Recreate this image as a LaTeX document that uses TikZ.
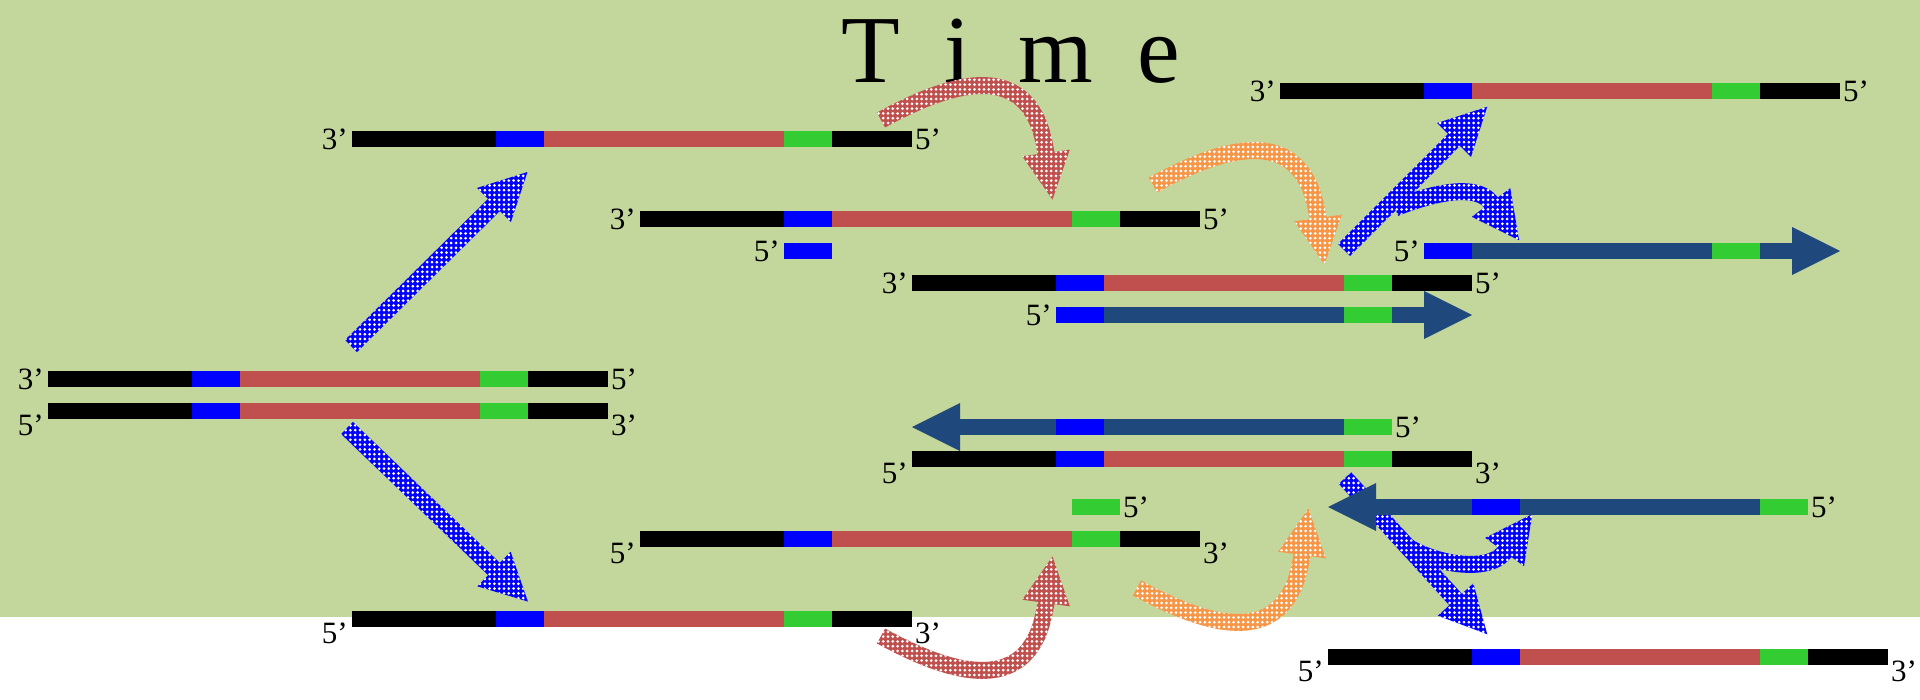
\documentclass[tikz,border=0pt]{standalone}
\usepackage{fontspec}
\setmainfont{Liberation Serif}
\usetikzlibrary{calc,patterns.meta}

\definecolor{bggreen}{HTML}{C3D69B}
\definecolor{dnared}{HTML}{C0504D}
\definecolor{dnagreen}{HTML}{33CC33}
\definecolor{dnablue}{HTML}{0000FF}
\definecolor{newstrand}{HTML}{1F497D}
\definecolor{arrorange}{HTML}{F79646}

% template strand: flank, primer site, insert, primer site, flank
\newcommand\dnastrand[3]{%
  \node[box, minimum width=560pt, anchor=north west] (#1) at (#2,#3) {};
  \fill[black]     (#2,#3)     rectangle ++(144,16);
  \fill[dnablue]   (#2+144,#3) rectangle ++(48,16);
  \fill[dnared]    (#2+192,#3) rectangle ++(240,16);
  \fill[dnagreen]  (#2+432,#3) rectangle ++(48,16);
  \fill[black]     (#2+480,#3) rectangle ++(80,16);
}
% newly synthesised strand growing to the right
\newcommand\newfwd[3]{%
  \node[box, minimum width=416pt, anchor=north west] (#1) at (#2,#3) {};
  \fill[dnablue]   (#2,#3)     rectangle ++(48,16);
  \fill[newstrand] (#2+48,#3)  rectangle ++(240,16);
  \fill[dnagreen]  (#2+288,#3) rectangle ++(48,16);
  \fill[newstrand] (#2+336,#3) rectangle ++(33,16);
  \fill[newstrand] (#2+368,#3-16) -- (#2+416,#3+8) -- (#2+368,#3+32) -- cycle;
}
% newly synthesised strand growing to the left
\newcommand\newrev[3]{%
  \node[box, minimum width=480pt, anchor=north west] (#1) at (#2,#3) {};
  \fill[newstrand] (#2,#3+8) -- (#2+48,#3-16) -- (#2+48,#3+32) -- cycle;
  \fill[newstrand] (#2+47,#3)  rectangle ++(97,16);
  \fill[dnablue]   (#2+144,#3) rectangle ++(48,16);
  \fill[newstrand] (#2+192,#3) rectangle ++(240,16);
  \fill[dnagreen]  (#2+432,#3) rectangle ++(48,16);
}
% thick block arrow along a Bezier: style, tail, control 1, control 2, head base.
% The shaft outline is sampled along the curve and offset along its normal.
\newcommand\fatarrow[5]{%
  \path (#2) coordinate (fa0) (#3) coordinate (fa1) (#4) coordinate (fa2) (#5) coordinate (fa3);
  \foreach \k in {0,...,24}{%
    \pgfmathsetmacro\ta{\k/24}%
    \pgfmathsetmacro\ca{(1-\ta)^3}%
    \pgfmathsetmacro\cb{3*(1-\ta)^2*\ta}%
    \pgfmathsetmacro\cc{3*(1-\ta)*\ta^2}%
    \pgfmathsetmacro\cd{\ta^3}%
    \pgfmathsetmacro\da{(1-\ta)^2}%
    \pgfmathsetmacro\db{2*(1-\ta)*\ta}%
    \pgfmathsetmacro\dc{\ta^2}%
    \path ($\ca*(fa0)+\cb*(fa1)+\cc*(fa2)+\cd*(fa3)$) coordinate (fb);
    \path ($(fb)+\da*(fa1)-\da*(fa0)+\db*(fa2)-\db*(fa1)+\dc*(fa3)-\dc*(fa2)$) coordinate (fe);
    \path ($(fb)!8.5pt!90:(fe)$) coordinate (fl\k)
          ($(fb)!8.5pt!-90:(fe)$) coordinate (fr\k);
  }%
  \path ($(fa3)!24pt!-90:(fa2)$) coordinate (fbl)
        ($(fa3)!24pt!90:(fa2)$) coordinate (fbr)
        ($(fa3)!-47pt!(fa2)$) coordinate (ftip);
  \fill[#1] (fl0) foreach \k in {1,...,24}{-- (fl\k)} -- (fbl) -- (ftip) -- (fbr)
            foreach \k in {24,23,...,0}{-- (fr\k)} -- cycle;
}

\begin{document}
\begin{tikzpicture}[x=1pt,y=-1pt,
  box/.style={inner sep=0pt, outer sep=0pt, minimum height=16pt},
  lab/.style={inner sep=0pt, font=\fontsize{31}{36}\selectfont},
  dotted fill/.style={postaction={pattern={Dots[radius=1.5pt,distance=4.8pt]}, pattern color=white}},
  bluearrow/.style={fill=dnablue, dotted fill},
  redarrow/.style={fill=dnared, dotted fill},
  orangearrow/.style={fill=arrorange, dotted fill}]

\useasboundingbox (0,0) rectangle (1920,699);
\fill[bggreen] (0,0) rectangle (1920,617);

\node[anchor=base west, inner sep=0pt, font=\fontsize{96}{110}\selectfont] (title)
  at (841,82) {T\hspace{0.46em}i\hspace{0.5em}m\hspace{0.46em}e};

% arrow end points
\coordinate (upT) at (351,346);   \coordinate (upH) at (494,205);
\coordinate (dnT) at (347,428);   \coordinate (dnH) at (494,569);
\coordinate (r1T) at (881,120);   \coordinate (r1H) at (1046,153);
\coordinate (r2T) at (881,636);   \coordinate (r2H) at (1046,603);
\coordinate (o1T) at (1153,185);  \coordinate (o1H) at (1318,218);
\coordinate (o2T) at (1137,588);  \coordinate (o2H) at (1302,555);
\coordinate (b1T) at (1344,250);  \coordinate (b1H) at (1454,140);
\coordinate (b2T) at (1395,208);  \coordinate (b2H) at (1491,202.5);
\coordinate (b3T) at (1345,478);  \coordinate (b3H) at (1455.6,599.5);
\coordinate (b4T) at (1408,547);  \coordinate (b4H) at (1504.6,552);

% denaturation
\fatarrow{bluearrow}{upT}{$(upT)!0.33!(upH)$}{$(upT)!0.67!(upH)$}{upH}
\fatarrow{bluearrow}{dnT}{$(dnT)!0.33!(dnH)$}{$(dnT)!0.67!(dnH)$}{dnH}
% annealing
\fatarrow{redarrow}{r1T}{945,85}{1032,52}{r1H}
\fatarrow{redarrow}{r2T}{945,671}{1032,704}{r2H}
% extension
\fatarrow{orangearrow}{o1T}{1217,150}{1304,117}{o1H}
\fatarrow{orangearrow}{o2T}{1201,623}{1288,656}{o2H}
% next denaturation
\fatarrow{bluearrow}{b1T}{$(b1T)!0.33!(b1H)$}{$(b1T)!0.67!(b1H)$}{b1H}
\fatarrow{bluearrow}{b2T}{1440,190}{1478,185}{b2H}
\fatarrow{bluearrow}{b3T}{$(b3T)!0.33!(b3H)$}{$(b3T)!0.67!(b3H)$}{b3H}
\fatarrow{bluearrow}{b4T}{1440,566}{1490,572}{b4H}

% starting double strand
\dnastrand{A1}{48}{371}
\dnastrand{A2}{48}{403}
\node[lab, anchor=east] (A1l) at ($(A1.west)+(-4,0)$) {3’};
\node[lab, anchor=west] (A1r) at ($(A1.east)+(3,0)$) {5’};
\node[lab, anchor=east] (A2l) at ($(A2.west)+(-4,14)$) {5’};
\node[lab, anchor=west] (A2r) at ($(A2.east)+(3,14)$) {3’};

% separated strands
\dnastrand{B}{352}{131}
\node[lab, anchor=east] (Bl) at ($(B.west)+(-4,0)$) {3’};
\node[lab, anchor=west] (Br) at ($(B.east)+(3,0)$) {5’};
\dnastrand{H}{352}{611}
\node[lab, anchor=east] (Hl) at ($(H.west)+(-4,14)$) {5’};
\node[lab, anchor=west] (Hr) at ($(H.east)+(3,14)$) {3’};

% primers annealed
\dnastrand{C}{640}{211}
\node[lab, anchor=east] (Cl) at ($(C.west)+(-4,0)$) {3’};
\node[lab, anchor=west] (Cr) at ($(C.east)+(3,0)$) {5’};
\node[box, minimum width=48pt, anchor=north west, fill=dnablue] (Cp) at (784,243) {};
\node[lab, anchor=east] (Cpl) at ($(Cp.west)+(-4,0)$) {5’};

\dnastrand{G}{640}{531}
\node[lab, anchor=east] (Gl) at ($(G.west)+(-4,14)$) {5’};
\node[lab, anchor=west] (Gr) at ($(G.east)+(3,14)$) {3’};
\node[box, minimum width=48pt, anchor=north west, fill=dnagreen] (Gp) at (1072,499) {};
\node[lab, anchor=west] (Gpr) at ($(Gp.east)+(3,0)$) {5’};

% extended strands
\dnastrand{D}{912}{275}
\node[lab, anchor=east] (Dl) at ($(D.west)+(-4,0)$) {3’};
\node[lab, anchor=west] (Dr) at ($(D.east)+(3,0)$) {5’};
\newfwd{Dn}{1056}{307}
\node[lab, anchor=east] (Dnl) at ($(Dn.west)+(-4,0)$) {5’};

\newrev{Fn}{912}{419}
\node[lab, anchor=west] (Fnr) at ($(Fn.east)+(3,0)$) {5’};
\dnastrand{F}{912}{451}
\node[lab, anchor=east] (Fl) at ($(F.west)+(-4,14)$) {5’};
\node[lab, anchor=west] (Fr) at ($(F.east)+(3,14)$) {3’};

% products
\dnastrand{E}{1280}{83}
\node[lab, anchor=east] (El) at ($(E.west)+(-4,0)$) {3’};
\node[lab, anchor=west] (Er) at ($(E.east)+(3,0)$) {5’};
\newfwd{En}{1424}{243}
\node[lab, anchor=east] (Enl) at ($(En.west)+(-4,0)$) {5’};

\newrev{In}{1328}{499}
\node[lab, anchor=west] (Inr) at ($(In.east)+(3,0)$) {5’};
\dnastrand{I}{1328}{649}
\node[lab, anchor=east] (Il) at ($(I.west)+(-4,14)$) {5’};
\node[lab, anchor=west] (Ir) at ($(I.east)+(3,14)$) {3’};
\end{tikzpicture}
\end{document}
